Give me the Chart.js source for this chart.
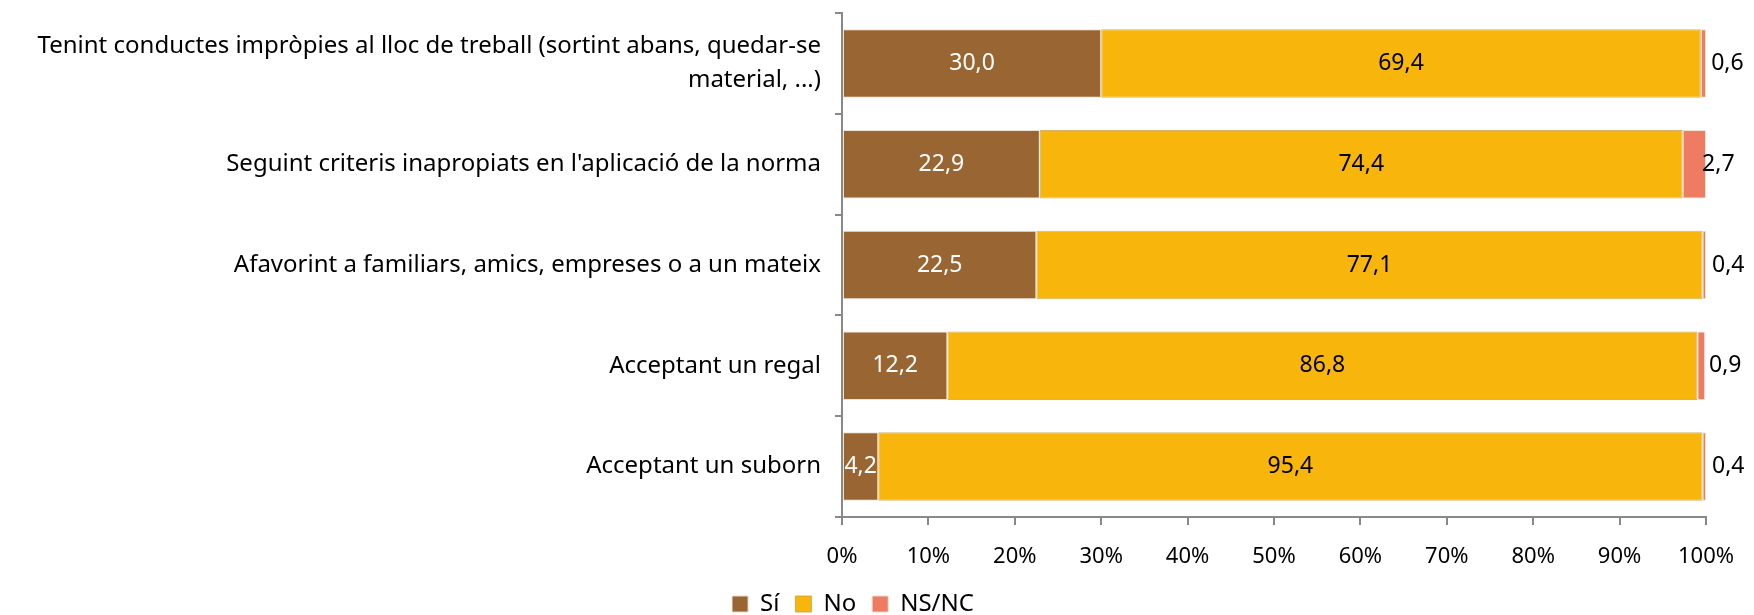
<!DOCTYPE html>
<html>
<head>
<meta charset="utf-8">
<script src="https://cdn.jsdelivr.net/npm/chart.js@4/dist/chart.umd.min.js"></script>
<style>
  html, body { margin: 0; padding: 0; background: #fff; }
  #wrap { width: 1754px; height: 615px; }
</style>
</head>
<body>
<div id="wrap"><canvas id="myChart" width="1754" height="615"></canvas></div>
<script>
const categories = [
  ['Tenint conductes impròpies al lloc de treball (sortint abans, quedar-se', 'material, ...)'],
  "Seguint criteris inapropiats en l'aplicació de la norma",
  'Afavorint a familiars, amics, empreses o a un mateix',
  'Acceptant un regal',
  'Acceptant un suborn'
];
const siValues = [30.0, 22.9, 22.5, 12.2, 4.2];
const noValues = [69.4, 74.4, 77.1, 86.8, 95.4];
const nsncValues = [0.6, 2.7, 0.4, 0.9, 0.4];
const xTicks = [0, 10, 20, 30, 40, 50, 60, 70, 80, 90, 100];

const FONT = '"Noto Sans", "Open Sans", sans-serif';

function fmt(v) {
  return v.toFixed(1).replace('.', ',');
}

// draws the value labels on each segment
const segmentLabels = {
  id: 'segmentLabels',
  afterDatasetsDraw(chart) {
    const ctx = chart.ctx;
    ctx.save();
    ctx.font = '23px ' + FONT;
    ctx.textBaseline = 'middle';
    ctx.textAlign = 'center';
    chart.data.datasets.forEach((ds, i) => {
      const meta = chart.getDatasetMeta(i);
      meta.data.forEach((bar, j) => {
        const v = ds.data[j];
        const text = fmt(v);
        const left = Math.min(bar.x, bar.base);
        const right = Math.max(bar.x, bar.base);
        const mid = (left + right) / 2;
        if (i === 0) {
          ctx.fillStyle = '#ffffff';
          ctx.fillText(text, mid, bar.y);
        } else if (i === 1) {
          ctx.fillStyle = '#000000';
          ctx.fillText(text, mid, bar.y);
        } else {
          ctx.fillStyle = '#000000';
          ctx.fillText(text, mid + 24, bar.y);
        }
      });
    });
    ctx.restore();
  }
};

const ctx = document.getElementById('myChart').getContext('2d');
const myChart = new Chart(ctx, {
  type: 'bar',
  data: {
    labels: categories,
    datasets: [
      {
        label: 'Sí',
        data: siValues,
        backgroundColor: '#996633',
        borderColor: 'rgba(235,225,205,0.9)',
        borderWidth: 1,
        borderSkipped: false
      },
      {
        label: 'No',
        data: noValues,
        backgroundColor: '#F8B50B',
        borderColor: 'rgba(200,160,70,0.8)',
        borderWidth: 1,
        borderSkipped: false
      },
      {
        label: 'NS/NC',
        data: nsncValues,
        backgroundColor: '#F07B63',
        borderColor: 'rgba(235,225,205,0.9)',
        borderWidth: 1,
        borderSkipped: false
      }
    ]
  },
  options: {
    indexAxis: 'y',
    responsive: false,
    animation: false,
    categoryPercentage: 0.68,
    barPercentage: 1.0,
    layout: { padding: { top: 13, right: 48, left: 0, bottom: -11 } },
    scales: {
      x: {
        stacked: true,
        min: 0,
        max: 100,
        afterBuildTicks(scale) {
          scale.ticks = xTicks.map(v => ({ value: v }));
        },
        ticks: {
          callback: v => v + '%',
          color: '#000',
          font: { family: FONT, size: 22 },
          padding: 19,
          maxRotation: 0
        },
        grid: {
          drawOnChartArea: false,
          drawTicks: true,
          tickLength: 8,
          color: '#888',
          lineWidth: 2
        },
        border: { color: '#888', width: 2 },
        afterFit(scale) { scale.height = 59; }
      },
      y: {
        stacked: true,
        ticks: {
          color: '#000',
          font: { family: FONT, size: 24, lineHeight: 1.4 },
          padding: 14
        },
        grid: {
          offset: true,
          drawOnChartArea: false,
          tickLength: 7,
          color: '#888',
          lineWidth: 2
        },
        border: { color: '#888', width: 2 },
        afterFit(scale) {
          scale.width = 842;
          scale.paddingTop = 0;
          scale.paddingBottom = 0;
        }
      }
    },
    plugins: {
      legend: {
        position: 'bottom',
        labels: {
          color: '#000',
          font: { family: FONT, size: 24 },
          boxWidth: 16,
          boxHeight: 16,
          padding: 16
        }
      },
      tooltip: { enabled: false }
    }
  },
  plugins: [segmentLabels]
});
</script>
</body>
</html>
